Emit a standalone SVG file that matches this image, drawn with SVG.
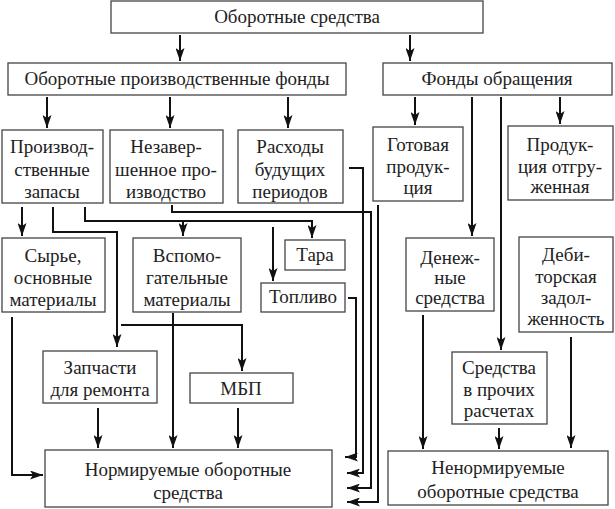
<svg xmlns="http://www.w3.org/2000/svg" width="615" height="509" viewBox="0 0 615 509">
<defs>
<style>
rect{fill:#fff;stroke:#444;stroke-width:1.3}
text{font-family:"Liberation Serif","Times New Roman",serif;font-size:19px;fill:#222;text-anchor:middle}
.c path{fill:none;stroke:#111;stroke-width:2}
.c path.a{marker-end:url(#ah)}
</style>
<marker id="ah" viewBox="0 0 13 9" refX="13" refY="4.5" markerWidth="13" markerHeight="9" markerUnits="userSpaceOnUse" orient="auto"><path d="M0,0 L13,4.5 L0,9 L3,4.5 z" fill="#111"/></marker>
</defs>
<rect x="0" y="0" width="615" height="509" style="fill:#fff;stroke:none"/>
<g id="top"><rect x="111" y="1" width="372" height="32"/><text x="297" y="23">Оборотные средства</text></g>
<g id="opf"><rect x="8" y="63" width="338" height="32"/><text x="177" y="85">Оборотные производственные фонды</text></g>
<g id="fo"><rect x="383" y="63" width="229" height="32"/><text x="497" y="85">Фонды обращения</text></g>
<g id="pz"><rect x="2" y="130" width="101" height="73"/><text x="52" y="153">Производ-</text><text x="52" y="176">ственные</text><text x="52" y="198">запасы</text></g>
<g id="nz"><rect x="110" y="130" width="113" height="73"/><text x="166" y="153">Незавер-</text><text x="166" y="176">шенное про-</text><text x="166" y="198">изводство</text></g>
<g id="rbp"><rect x="238" y="130" width="105" height="73"/><text x="290" y="153">Расходы</text><text x="290" y="176">будущих</text><text x="290" y="198">периодов</text></g>
<g id="gp"><rect x="373" y="127" width="90" height="74"/><text x="418" y="151">Готовая</text><text x="418" y="173">продук-</text><text x="418" y="194">ция</text></g>
<g id="po"><rect x="508" y="126" width="105" height="74"/><text x="560" y="151">Продук-</text><text x="560" y="173">ция отгру-</text><text x="560" y="193">женная</text></g>
<g id="syr"><rect x="2" y="238" width="103" height="74"/><text x="53" y="262">Сырье,</text><text x="53" y="284">основные</text><text x="53" y="306">материалы</text></g>
<g id="vsp"><rect x="133" y="238" width="108" height="74"/><text x="187" y="262">Вспомо-</text><text x="187" y="284">гательные</text><text x="187" y="306">материалы</text></g>
<g id="tara"><rect x="285" y="240" width="60" height="30"/><text x="315" y="261">Тара</text></g>
<g id="topl"><rect x="261" y="283" width="84" height="29"/><text x="303" y="303">Топливо</text></g>
<g id="den"><rect x="406" y="238" width="88" height="73"/><text x="450" y="264">Денеж-</text><text x="450" y="284">ные</text><text x="450" y="304">средства</text></g>
<g id="deb"><rect x="519" y="237" width="94" height="95"/><text x="566" y="261">Деби-</text><text x="566" y="283">торская</text><text x="566" y="304">задол-</text><text x="566" y="325">женность</text></g>
<g id="zap"><rect x="43" y="351" width="114" height="52"/><text x="100" y="374">Запчасти</text><text x="100" y="396">для ремонта</text></g>
<g id="mbp"><rect x="190" y="373" width="103" height="30"/><text x="241" y="395">МБП</text></g>
<g id="spr"><rect x="452" y="352" width="95" height="72"/><text x="499" y="374">Средства</text><text x="499" y="396">в прочих</text><text x="499" y="417">расчетах</text></g>
<g id="norm"><rect x="45" y="450" width="287" height="57"/><text x="188" y="476">Нормируемые оборотные</text><text x="188" y="499">средства</text></g>
<g id="nenorm"><rect x="388" y="451" width="220" height="54"/><text x="498" y="474">Ненормируемые</text><text x="498" y="498">оборотные средства</text></g>
<g class="c" id="connectors">
<path class="a" d="M180,35 V61"/>
<path class="a" d="M410,35 V61"/>
<path class="a" d="M47,97 V128"/>
<path class="a" d="M170,97 V128"/>
<path class="a" d="M288,97 V128"/>
<path class="a" d="M415,97 V125"/>
<path class="a" d="M472,97 V236"/>
<path class="a" d="M501,97 V350"/>
<path class="a" d="M560,97 V124"/>
<path class="a" d="M22,207 V236"/>
<path class="a" d="M53,207 V232 H117 V347"/>
<path class="a" d="M85,207 V221 H312 V238"/>
<path class="a" d="M183,221 V236"/>
<path class="a" d="M273,227 V281"/>
<path class="a" d="M121,325 H242 V371"/>
<path class="a" d="M12,317 V475 H43"/>
<path class="a" d="M98,408 V448"/>
<path class="a" d="M173,313 V448"/>
<path class="a" d="M238,408 V448"/>
<path class="a" d="M172,205 V212 H371 V488 H347"/>
<path class="a" d="M349,168 H363 V473 H347"/>
<path class="a" d="M348,298 H356 V457 H345"/>
<path class="a" d="M378,205 V502 H347"/>
<path class="a" d="M423,315 V449"/>
<path class="a" d="M499,428 V449"/>
<path class="a" d="M571,337 V448"/>
</g>
</svg>
